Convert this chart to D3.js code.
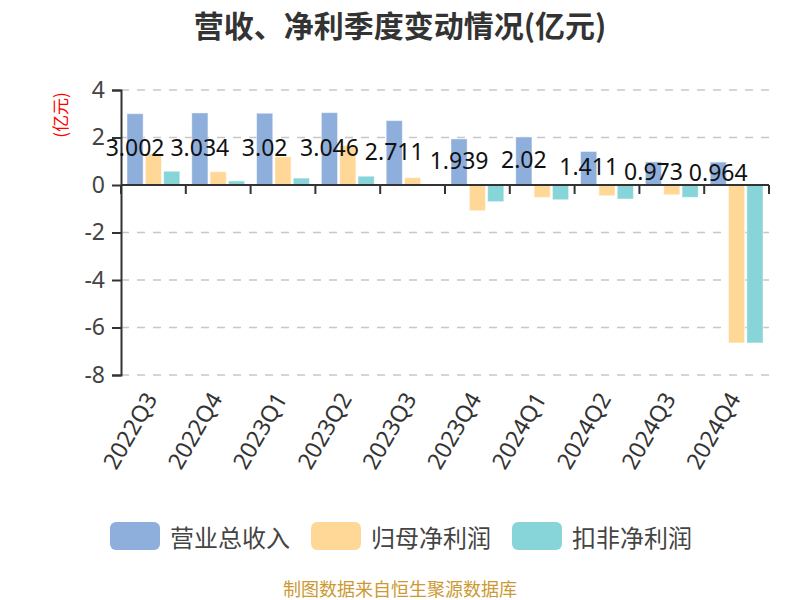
<!DOCTYPE html>
<html>
<head>
<meta charset="utf-8">
<script src="https://cdn.jsdelivr.net/npm/d3@7/dist/d3.min.js"></script>
<style>
html,body{margin:0;padding:0;background:#fff;}
svg{display:block;}
</style>
</head>
<body>
<svg id="chart" width="800" height="600"></svg>
<script>
const categories = ["2022Q3","2022Q4","2023Q1","2023Q2","2023Q3","2023Q4","2024Q1","2024Q2","2024Q3","2024Q4"];
const seriesNames = ["营业总收入","归母净利润","扣非净利润"];
const revenue = [3.002,3.034,3.02,3.046,2.711,1.939,2.02,1.411,0.973,0.964];
const netProfit = [1.31,0.56,1.19,1.66,0.31,-1.08,-0.52,-0.45,-0.41,-6.65];
const deductedProfit = [0.58,0.17,0.29,0.37,0.0,-0.70,-0.62,-0.59,-0.52,-6.65];
const yTicks = [4,2,0,-2,-4,-6,-8];
const colors = ["#8eaedc","#ffd898","#87d5d8"];

const seriesValues = [revenue, netProfit, deductedProfit];
const svg = d3.select("#chart");
const numFont = "'Noto Sans','Noto Sans CJK SC',sans-serif";
const cjkFont = "'Noto Sans CJK SC','Noto Sans',sans-serif";

const pLeft = 121, pRight = 769, pTop = 90, pBottom = 375;
const y = d3.scaleLinear().domain([-8,4]).range([pBottom, pTop]);
const x = d3.scaleBand().domain(categories).range([pLeft, pRight]).padding(0);
const step = x.step();
const x1 = d3.scaleBand().domain(seriesNames).range([6, step - 6]).paddingInner(0.12).paddingOuter(0);

// title
svg.append("text").attr("x", 400).attr("y", 24).attr("text-anchor","middle")
  .attr("dominant-baseline","central")
  .style("font-family", cjkFont).style("font-size","30px").style("font-weight","bold")
  .style("fill","#333").text("营收、净利季度变动情况(亿元)");

// y unit label
svg.append("text").attr("transform","translate(59,115) rotate(-90)")
  .attr("text-anchor","middle").attr("dominant-baseline","central")
  .style("font-family", cjkFont).style("font-size","17px").style("fill","#ff0000")
  .text("(亿元)");

// gridlines
svg.append("g").selectAll("line").data(yTicks.filter(d => d !== 0)).join("line")
  .attr("x1", pLeft).attr("x2", pRight)
  .attr("y1", d => y(d)).attr("y2", d => y(d))
  .attr("stroke","#c8c8c8").attr("stroke-width",1.5).attr("stroke-dasharray","8,8");

// bars
const gBars = svg.append("g");
seriesValues.forEach((vals, si) => {
  gBars.selectAll(null).data(vals.map((v,i)=>({v, c:categories[i]}))).join("rect")
    .attr("x", d => x(d.c) + x1(seriesNames[si]))
    .attr("width", x1.bandwidth())
    .attr("y", d => Math.min(y(d.v), y(0)))
    .attr("height", d => Math.abs(y(d.v) - y(0)))
    .attr("fill", colors[si])
    .attr("stroke","rgba(255,255,255,0.45)").attr("stroke-width",1);
});

// y axis
const yAxis = d3.axisLeft(y).tickValues(yTicks).tickSize(9).tickPadding(7).tickFormat(d => String(d));
const gy = svg.append("g").attr("transform",`translate(${pLeft},0)`).call(yAxis);
gy.select(".domain").attr("stroke","#333").attr("stroke-width",2);
gy.selectAll(".tick line").attr("stroke","#333").attr("stroke-width",2);
gy.selectAll(".tick text").style("font-family", numFont).style("font-size","23px").style("fill","#444");

// x axis at zero
const gx = svg.append("g").attr("transform",`translate(0,${y(0)})`);
gx.append("line").attr("x1", pLeft).attr("x2", pRight).attr("y1",0).attr("y2",0)
  .attr("stroke","#333").attr("stroke-width",2);
const boundaries = categories.map(c => x(c)).concat([x(categories[categories.length-1]) + step]);
gx.selectAll("line.tk").data(boundaries).join("line").attr("class","tk")
  .attr("x1", d => d).attr("x2", d => d).attr("y1",0).attr("y2",9)
  .attr("stroke","#333").attr("stroke-width",2);

// x labels at bottom
svg.append("g").selectAll("text").data(categories).join("text")
  .attr("transform", d => `translate(${x(d) + step/2 - 3},394) rotate(-60)`)
  .attr("text-anchor","end").attr("dominant-baseline","central")
  .style("font-family", numFont).style("font-size","23px").style("fill","#333")
  .text(d => d);

// data labels on revenue bars
svg.append("g").selectAll("text").data(revenue.map((v,i)=>({v,c:categories[i]}))).join("text")
  .attr("x", d => x(d.c) + x1(seriesNames[0]) + x1.bandwidth()/2)
  .attr("y", d => (y(d.v) + y(0))/2 - 2)
  .attr("text-anchor","middle").attr("dominant-baseline","central")
  .style("font-family", numFont).style("font-size","23px").style("fill","#111")
  .text(d => d.v);

// legend
const legendX = [110, 311, 512];
const lg = svg.append("g");
seriesNames.forEach((n,i) => {
  lg.append("rect").attr("x", legendX[i]).attr("y", 522).attr("width",50).attr("height",28)
    .attr("rx",6).attr("fill", colors[i]);
  lg.append("text").attr("x", legendX[i] + 60).attr("y", 536).attr("dominant-baseline","central")
    .style("font-family", cjkFont).style("font-size","24px").style("fill","#444").text(n);
});

// footer
svg.append("text").attr("x",400).attr("y",588).attr("text-anchor","middle").attr("dominant-baseline","central")
  .style("font-family", cjkFont).style("font-size","18px").style("fill","#cc9933")
  .text("制图数据来自恒生聚源数据库");
</script>
</body>
</html>
